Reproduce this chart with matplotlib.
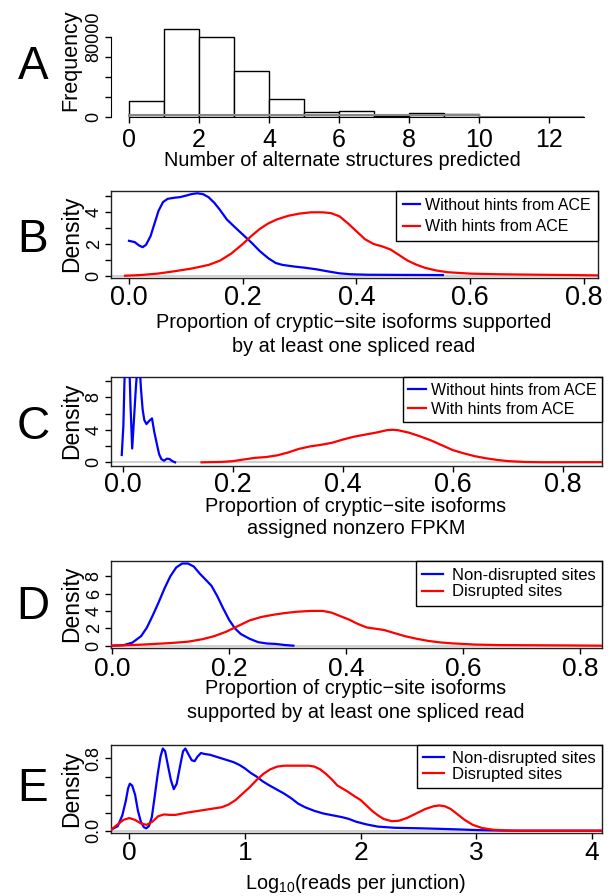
import numpy as np
import matplotlib
matplotlib.use("Agg")
import matplotlib.pyplot as plt

plt.rcParams['font.family'] = ['Liberation Sans', 'DejaVu Sans']
plt.rcParams['mathtext.fontset'] = 'custom'
plt.rcParams['mathtext.rm'] = 'Liberation Sans'
plt.rcParams['mathtext.it'] = 'Liberation Sans:italic'

# ---- panel A: histogram of alternate structures
a_edges = [0, 1, 2, 3, 4, 5, 6, 7, 8, 9, 10, 11, 12, 13]
a_counts = [16400, 87900, 79700, 46500, 17700, 5200, 5600, 1300, 4300, 3000, 400, 200, 100]
a_gray = [1700, 1700, 1700, 1700, 1700, 1700, 1700, 1700, 1700, 1700, 0, 0, 0]

# ---- panel B: spliced read support
b_blue_x = [0.0, 0.01, 0.018, 0.024, 0.03, 0.038, 0.045, 0.052, 0.06, 0.068, 0.08, 0.09, 0.1,
            0.11, 0.12, 0.13, 0.14, 0.15, 0.16, 0.172, 0.185, 0.2, 0.215, 0.23, 0.245, 0.258,
            0.27, 0.29, 0.31, 0.33, 0.35, 0.37, 0.39, 0.42, 0.48, 0.552]
b_blue_y = [2.2, 2.12, 1.9, 1.8, 1.95, 2.5, 3.3, 4.1, 4.65, 4.85, 4.92, 4.96, 5.05,
            5.15, 5.2, 5.15, 4.95, 4.6, 4.15, 3.55, 3.1, 2.6, 2.1, 1.55, 1.1, 0.8,
            0.68, 0.58, 0.5, 0.4, 0.27, 0.15, 0.09, 0.06, 0.05, 0.04]
b_red_x = [-0.007, 0.02, 0.05, 0.08, 0.11, 0.14, 0.16, 0.18, 0.2, 0.215, 0.23, 0.245, 0.26,
           0.28, 0.3, 0.32, 0.34, 0.355, 0.37, 0.385, 0.4, 0.415, 0.43, 0.445, 0.46, 0.475,
           0.49, 0.505, 0.52, 0.54, 0.56, 0.6, 0.65, 0.72, 0.78, 0.825]
b_red_y = [0.0, 0.04, 0.13, 0.28, 0.45, 0.68, 0.95, 1.4, 2.0, 2.5, 2.95, 3.3, 3.55,
           3.78, 3.92, 4.0, 4.0, 3.95, 3.75, 3.3, 2.8, 2.3, 2.0, 1.85, 1.65, 1.3,
           0.95, 0.7, 0.5, 0.33, 0.22, 0.13, 0.09, 0.06, 0.04, 0.02]

# ---- panel C: nonzero FPKM
c_blue_x = [-0.002, 0.001, 0.003, 0.005, 0.008, 0.011, 0.014, 0.017, 0.020, 0.024, 0.027, 0.030,
            0.033, 0.036, 0.039, 0.043, 0.048, 0.053, 0.057, 0.062, 0.066, 0.070, 0.075, 0.080,
            0.085, 0.090, 0.095]
c_blue_y = [0.9, 4.5, 10.0, 14.0, 16.0, 14.0, 7.0, 1.7, 5.0, 9.5, 12.0, 12.5,
            9.0, 6.5, 5.2, 4.7, 5.1, 5.4, 3.8, 2.2, 1.0, 0.4, 0.2, 0.45,
            0.4, 0.15, 0.0]
c_red_x = [0.143, 0.18, 0.2, 0.22, 0.24, 0.26, 0.28, 0.3, 0.32, 0.34, 0.36, 0.38, 0.4,
           0.42, 0.44, 0.46, 0.48, 0.49, 0.5, 0.52, 0.54, 0.56, 0.58, 0.6, 0.62, 0.64,
           0.66, 0.68, 0.7, 0.73, 0.76, 0.871]
c_red_y = [0.0, 0.05, 0.15, 0.35, 0.55, 0.65, 0.85, 1.2, 1.65, 1.95, 2.15, 2.4, 2.8,
           3.15, 3.4, 3.65, 3.95, 4.0, 3.95, 3.65, 3.2, 2.7, 2.1, 1.5, 1.1, 0.75,
           0.5, 0.3, 0.15, 0.05, 0.01, 0.02]

# ---- panel D: disrupted vs non-disrupted, spliced read support
d_blue_x = [0.0, 0.02, 0.035, 0.05, 0.06, 0.07, 0.08, 0.09, 0.1, 0.11, 0.12, 0.13, 0.14,
            0.15, 0.16, 0.17, 0.18, 0.19, 0.2, 0.21, 0.22, 0.235, 0.25, 0.265, 0.28, 0.295, 0.31]
d_blue_y = [0.0, 0.06, 0.35, 1.1, 2.1, 3.5, 5.0, 6.6, 8.0, 9.0, 9.45, 9.45, 9.1,
            8.3, 7.6, 6.9, 5.7, 4.3, 3.0, 2.0, 1.35, 0.8, 0.4, 0.25, 0.2, 0.08, 0.0]
d_red_x = [0.0, 0.05, 0.1, 0.13, 0.155, 0.175, 0.195, 0.215, 0.235, 0.255, 0.275, 0.295,
           0.315, 0.34, 0.36, 0.375, 0.39, 0.405, 0.42, 0.435, 0.45, 0.465, 0.48, 0.5,
           0.52, 0.54, 0.56, 0.58, 0.62, 0.66, 0.72, 0.78, 0.836]
d_red_y = [0.0, 0.12, 0.3, 0.46, 0.75, 1.1, 1.6, 2.25, 2.9, 3.3, 3.55, 3.75,
           3.9, 4.0, 4.0, 3.8, 3.4, 3.0, 2.5, 2.1, 1.95, 1.8, 1.5, 1.1,
           0.8, 0.55, 0.38, 0.27, 0.13, 0.07, 0.05, 0.03, 0.0]

# ---- panel E: log10 reads per junction
e_blue_x = [-0.158, -0.1, -0.06, -0.03, -0.01, 0.005, 0.025, 0.05, 0.075, 0.1, 0.125, 0.146,
            0.17, 0.195, 0.22, 0.245, 0.27, 0.29, 0.31, 0.33, 0.36, 0.385, 0.41, 0.44, 0.465,
            0.485, 0.51, 0.54, 0.565, 0.59, 0.62, 0.65, 0.7, 0.75, 0.8, 0.85, 0.9, 0.95, 1.0,
            1.05, 1.1, 1.15, 1.2, 1.27, 1.34, 1.4, 1.46, 1.52, 1.6, 1.68, 1.76, 1.84, 1.9,
            1.96, 2.05, 2.15, 2.3, 2.5, 2.7, 2.85, 3.0, 3.2, 3.4, 4.088]
e_blue_y = [0.01, 0.05, 0.17, 0.33, 0.47, 0.52, 0.5, 0.4, 0.22, 0.1, 0.04, 0.026,
            0.05, 0.15, 0.38, 0.62, 0.82, 0.91, 0.88, 0.75, 0.56, 0.46, 0.52, 0.72, 0.88,
            0.91, 0.85, 0.78, 0.77, 0.82, 0.86, 0.85, 0.84, 0.82, 0.8, 0.78, 0.76, 0.73, 0.69,
            0.64, 0.6, 0.55, 0.51, 0.46, 0.41, 0.36, 0.3, 0.26, 0.22, 0.19, 0.17, 0.15, 0.13,
            0.1, 0.07, 0.045, 0.032, 0.027, 0.02, 0.014, 0.007, 0.002, 0.0, 0.0]
e_red_x = [-0.158, -0.1, -0.05, 0.0, 0.05, 0.1, 0.15, 0.2, 0.25, 0.3, 0.35, 0.4, 0.5, 0.6,
           0.7, 0.8, 0.86, 0.92, 0.98, 1.04, 1.1, 1.16, 1.22, 1.28, 1.34, 1.45, 1.55, 1.6,
           1.65, 1.7, 1.75, 1.8, 1.88, 1.95, 2.0, 2.05, 2.1, 2.15, 2.2, 2.27, 2.33, 2.4,
           2.48, 2.56, 2.63, 2.68, 2.73, 2.78, 2.84, 2.9, 2.97, 3.05, 3.15, 3.3, 4.088]
e_red_y = [0.01, 0.07, 0.12, 0.14, 0.12, 0.08, 0.065, 0.1, 0.16, 0.18, 0.175, 0.175, 0.2, 0.22,
           0.24, 0.26, 0.29, 0.34, 0.41, 0.48, 0.56, 0.63, 0.68, 0.71, 0.72, 0.72, 0.72, 0.71,
           0.68, 0.63, 0.57, 0.5, 0.44, 0.38, 0.34, 0.28, 0.22, 0.17, 0.13, 0.105, 0.11, 0.14,
           0.19, 0.24, 0.27, 0.28, 0.27, 0.24, 0.18, 0.12, 0.065, 0.03, 0.01, 0.0, 0.0]

ace_labels = ["Without hints from ACE", "With hints from ACE"]
site_labels = ["Non-disrupted sites", "Disrupted sites"]

W, H = 616, 896
fig = plt.figure(figsize=(W / 100, H / 100), dpi=100)


def px_axes(left, right, top, bottom):
    return fig.add_axes([left / W, 1 - bottom / H, (right - left) / W, (bottom - top) / H])


def ftext(x, y, s, **kw):
    fig.text(x / W, 1 - y / H, s, ha='center', va='center', **kw)


def style(ax, xsize, xpad=2):
    ax.tick_params(direction='out', length=4, width=1, labelsize=xsize)
    ax.tick_params(axis='x', pad=xpad)
    ax.tick_params(axis='y', labelsize=13, pad=2)
    for lab in ax.get_yticklabels():
        lab.set_rotation(90)
        lab.set_va('center')


def density_panel(ax, xs, ys, labels, xlim, ylim, xticks, yticks, yticklabels, xsize,
                  legend_kw, xpad=2):
    ax.axhline(0, color='#c8c8c8', lw=1.2, zorder=1)
    l1, = ax.plot(xs[0], ys[0], color='#0000ff', lw=1.6, zorder=3)
    l2, = ax.plot(xs[1], ys[1], color='#ff0000', lw=1.6, zorder=3)
    ax.set_xlim(*xlim)
    ax.set_ylim(*ylim)
    ax.set_xticks(xticks)
    ax.set_yticks(yticks)
    ax.set_yticklabels(yticklabels)
    for sp in ax.spines.values():
        sp.set_linewidth(1)
        sp.set_color('#222222')
    style(ax, xsize, xpad)
    fs = legend_kw.pop('fontsize', 11.5)
    leg = ax.legend([l1, l2], labels, loc='upper right', borderaxespad=0, fancybox=False,
                    framealpha=1, edgecolor='black', fontsize=fs, **legend_kw)
    leg.get_frame().set_linewidth(1)
    return ax


# ---- A
axA = px_axes(111, 602, 25.5, 117)
axA.bar(a_edges[:-1], a_counts, width=1, align='edge', color='white', edgecolor='black', lw=1)
axA.stairs(a_gray, a_edges, color='#888888', lw=1.5)
axA.set_xlim(-0.52, 13.52)
axA.set_ylim(0, 91500)
axA.set_xticks([0, 2, 4, 6, 8, 10, 12])
axA.set_yticks([0, 20000, 40000, 60000, 80000])
axA.set_yticklabels(['0', '', '', '', '80000'])
for s in ['top', 'right']:
    axA.spines[s].set_visible(False)
axA.spines['bottom'].set_bounds(0, 13)
axA.spines['left'].set_bounds(0, 80000)
style(axA, 18, 4)
ftext(342, 160, "Number of alternate structures predicted", fontsize=14.3)
ftext(71, 60, "Frequency", rotation=90, fontsize=15.5)
ftext(33, 67, "A", fontsize=33)

# ---- B
axB = px_axes(111, 598, 190.7, 278.5)
density_panel(axB, [b_blue_x, b_red_x], [b_blue_y, b_red_y], ace_labels,
              (-0.0316, 0.8246), (-0.177, 5.363), [0.0, 0.2, 0.4, 0.6, 0.8],
              [0, 1, 2, 3, 4, 5], ['0', '', '2', '', '4', ''], 19.5,
              dict(handlelength=1.1, handletextpad=0.3, borderpad=0.45, labelspacing=0.4), 1)
axB.set_xticklabels(['0.0', '0.2', '0.4', '0.6', '0.8'])
ftext(354, 323, "Proportion of cryptic\u2212site isoforms supported", fontsize=14.3)
ftext(354, 346, "by at least one spliced read", fontsize=14.3)
ftext(72, 234, "Density", rotation=90, fontsize=16.5)
ftext(33, 240, "B", fontsize=33)

# ---- C
axC = px_axes(111, 602, 377.3, 466)
density_panel(axC, [c_blue_x, c_red_x], [c_blue_y, c_red_y], ace_labels,
              (-0.0215, 0.871), (-0.45, 10.45), [0.0, 0.2, 0.4, 0.6, 0.8],
              [0, 2, 4, 6, 8, 10], ['0', '', '4', '', '8', ''], 19.5,
              dict(handlelength=1.1, handletextpad=0.3, borderpad=0.35, labelspacing=0.25), 0.5)
axC.set_xticklabels(['0.0', '0.2', '0.4', '0.6', '0.8'])
ftext(356, 506, "Proportion of cryptic\u2212site isoforms", fontsize=14.3)
ftext(356, 529, "assigned nonzero FPKM", fontsize=14.3)
ftext(72, 421, "Density", rotation=90, fontsize=16.5)
ftext(33, 427, "C", fontsize=33)

# ---- D
axD = px_axes(111, 602, 561, 648.3)
density_panel(axD, [d_blue_x, d_red_x], [d_blue_y, d_red_y], site_labels,
              (-0.0014, 0.8367), (-0.3, 9.74), [0.0, 0.2, 0.4, 0.6, 0.8],
              [0, 2, 4, 6, 8], ['0', '2', '4', '6', '8'], 19,
              dict(fontsize=12, handlelength=1.25, handletextpad=0.5, borderpad=0.4,
                   labelspacing=0.1))
axD.set_xticklabels(['0.0', '0.2', '0.4', '0.6', '0.8'])
ftext(356, 688, "Proportion of cryptic\u2212site isoforms", fontsize=14.3)
ftext(356, 712, "supported by at least one spliced read", fontsize=14.3)
ftext(72, 604, "Density", rotation=90, fontsize=16.5)
ftext(33, 607, "D", fontsize=33)

# ---- E
axE = px_axes(111, 602, 745, 832.5)
density_panel(axE, [e_blue_x, e_red_x], [e_blue_y, e_red_y], site_labels,
              (-0.158, 4.088), (-0.02, 0.949), [0, 1, 2, 3, 4],
              [0.0, 0.2, 0.4, 0.6, 0.8], ['0.0', '', '', '', '0.8'], 19,
              dict(fontsize=12, handlelength=1.25, handletextpad=0.5, borderpad=0.35,
                   labelspacing=0.05))
ftext(356, 883, r"Log$_{10}$(reads per junction)", fontsize=14.3)
ftext(72, 789, "Density", rotation=90, fontsize=16.5)
ftext(33, 789, "E", fontsize=33)

fig.savefig("out.png", dpi=100)
